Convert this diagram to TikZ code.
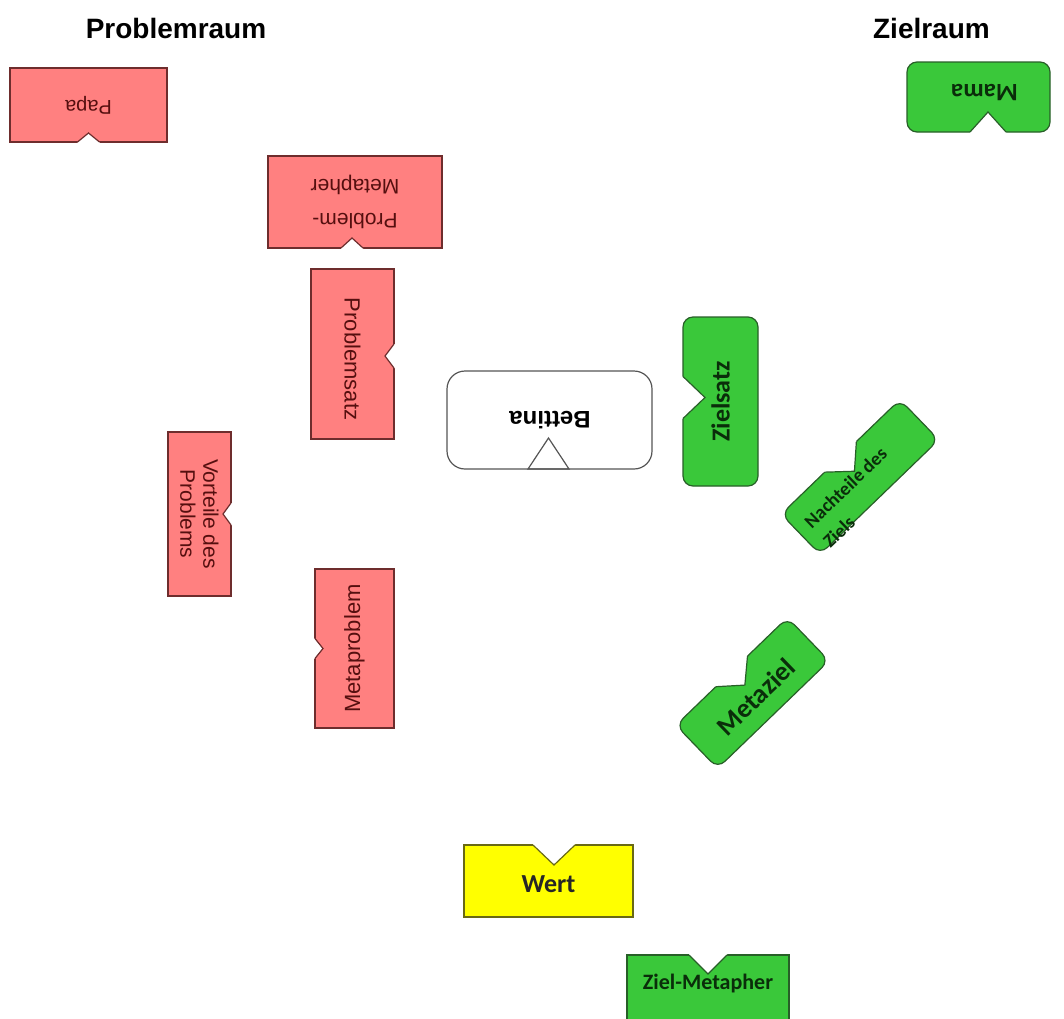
\documentclass[tikz,border=0pt]{standalone}
\usepackage{fontspec}
\setmainfont{Liberation Sans}
\newfontfamily\calibri{Carlito}

\definecolor{rotfill}{RGB}{255,128,128}
\definecolor{rotrand}{RGB}{110,45,45}
\definecolor{rotdunkel}{RGB}{85,15,15}
\definecolor{gruenfill}{RGB}{58,200,58}
\definecolor{gruenrand}{RGB}{40,95,40}
\definecolor{gruendunkel}{RGB}{10,45,10}
\definecolor{gelbfill}{RGB}{255,255,0}
\definecolor{gelbrand}{RGB}{105,105,20}
\definecolor{bettinarand}{RGB}{85,85,85}

% Karte mit Kerbe: Stil, Mitte, Drehung, Breite, Hoehe, Kerbe (Versatz, Breite, Tiefe), Inhalt
\newcommand{\karte}[9]{%
  \begin{scope}[shift={#2}, rotate=#3, every node/.append style={rotate=#3}]
    \draw[#1] (-#4/2,-#5/2) rectangle (#4/2,#5/2);
    \fill[white] (#6-#7/2,#5/2+2) -- (#6-#7/2,#5/2) -- (#6,#5/2-#8) -- (#6+#7/2,#5/2) -- (#6+#7/2,#5/2+2) -- cycle;
    \draw[#1, fill=none, sharp corners] (#6-#7/2,#5/2) -- (#6,#5/2-#8) -- (#6+#7/2,#5/2);
    #9
  \end{scope}}

\begin{document}
\begin{tikzpicture}[x=1pt, y=1pt,
    karterot/.style={draw=rotrand, fill=rotfill, line width=1.2pt},
    kartegruen/.style={draw=gruenrand, fill=gruenfill, line width=1.2pt, rounded corners=10pt},
    kartegruen eckig/.style={kartegruen, sharp corners},
    kartegelb/.style={draw=gelbrand, fill=gelbfill, line width=1.2pt},
    rottext/.style={text=rotdunkel, align=center},
    gruentext/.style={text=gruendunkel, align=center},
    titel/.style={inner sep=0pt, font=\bfseries\fontsize{28}{31}\selectfont}]
  \useasboundingbox (0,0) rectangle (1064,-1018);
  \fill[white] (0,0) rectangle (1064,-1018);
  \clip (0,0) rectangle (1064,-1018);

  % Ueberschriften
  \node[titel] (problemraum) at (176,-28) {Problemraum};
  \node[titel, anchor=east] (zielraum) at (990,-28) {Zielraum};

  % Problemraum
  \karte{karterot}{(88.5,-105)}{180}{157}{74}{0}{22}{9}
    {\node[rottext, font=\fontsize{20}{22}\selectfont] (papa) at (0,0) {Papa};}
  \karte{karterot}{(355,-202)}{180}{174}{92}{3}{22}{10}
    {\node[rottext, font=\fontsize{21}{34}\selectfont] (problemmetapher) at (0,0) {Problem-\\Metapher};}
  \karte{karterot}{(352.5,-354)}{-90}{170}{83}{2}{24}{9}
    {\node[rottext, font=\fontsize{22}{24}\selectfont] (problemsatz) at (5,0) {Problemsatz};}
  \karte{karterot}{(199.5,-514)}{-90}{164}{63}{0}{22}{8}
    {\node[rottext, font=\fontsize{21}{23}\selectfont] (vorteile) at (0,0) {Vorteile des\\Problems};}
  \karte{karterot}{(354.5,-648.5)}{90}{159}{79}{0}{20}{8}
    {\node[rottext, font=\fontsize{22}{24}\selectfont] (metaproblem) at (0,0) {Metaproblem};}

  % Mitte
  \draw[draw=bettinarand, fill=white, line width=1.2pt, rounded corners=18pt] (447,-371) rectangle (652,-469);
  \draw[draw=bettinarand, line width=1.2pt] (528,-469) -- (548.5,-438) -- (569,-469) -- cycle;
  \node[font=\bfseries\fontsize{24}{26}\selectfont, rotate=180] (bettina) at (550,-420) {Bettina};

  % Zielraum
  \karte{kartegruen}{(978.5,-97)}{180}{143}{70}{-9.5}{36}{20}
    {\node[gruentext, font=\calibri\bfseries\fontsize{25}{27}\selectfont] (mama) at (-6,-4) {Mama};}
  \karte{kartegruen}{(720.5,-401.5)}{90}{169}{75}{4}{42}{22}
    {\node[gruentext, font=\calibri\bfseries\fontsize{26}{28}\selectfont] (zielsatz) at (0,0) {Zielsatz};}
  \karte{kartegruen}{(860,-477)}{44}{165}{56}{0}{44}{20}
    {\node[gruentext, align=left, anchor=west, inner sep=0pt, font=\calibri\bfseries\fontsize{19}{27}\selectfont] (nachteile) at (-71,-11) {Nachteile des\\Ziels};}
  \karte{kartegruen}{(752.5,-693)}{44}{155}{60}{0}{44}{19}
    {\node[gruentext, font=\calibri\bfseries\fontsize{27}{29}\selectfont] (metaziel) at (0,-5) {Metaziel};}
  \karte{kartegelb}{(548.5,-881)}{0}{169}{72}{5.5}{42}{20}
    {\node[text=black!85, font=\calibri\bfseries\fontsize{26}{28}\selectfont] (wert) at (0,-3) {Wert};}
  \karte{kartegruen eckig}{(708,-993)}{0}{162}{76}{0}{38}{19}
    {\node[gruentext, font=\calibri\bfseries\fontsize{22}{24}\selectfont] (zielmetapher) at (0,10) {Ziel-Metapher};}
\end{tikzpicture}
\end{document}
